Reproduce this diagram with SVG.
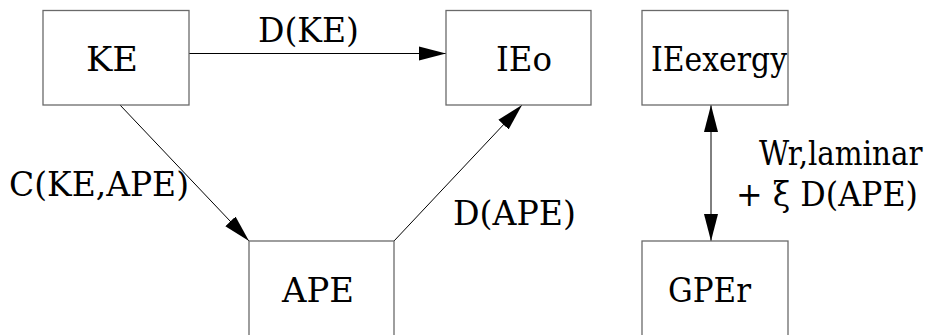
<svg xmlns="http://www.w3.org/2000/svg" width="932" height="335" viewBox="0 0 932 335">
<style>
.box{fill:#fff;stroke:#6a6a6a;stroke-width:1.3}
.t{font-family:'DejaVu Serif',serif;font-size:33px;fill:#000}
.c{stroke:#000;stroke-width:1;fill:none}
</style>
<defs>
<marker id="ah" markerUnits="userSpaceOnUse" markerWidth="28" markerHeight="16" refX="27" refY="7" orient="auto-start-reverse" viewBox="0 0 28 14">
<path d="M0,0 L27,7 L0,14 z" fill="#000"/>
</marker>
</defs>
<rect width="932" height="335" fill="#fff"/>
<g id="connectors">
<line class="c" x1="189" y1="53.5" x2="446" y2="53.5" marker-end="url(#ah)"/>
<line class="c" x1="120" y1="105" x2="249" y2="241" marker-end="url(#ah)"/>
<line class="c" x1="394" y1="241" x2="522" y2="105" marker-end="url(#ah)"/>
<line class="c" x1="711" y1="105" x2="711" y2="241" marker-start="url(#ah)" marker-end="url(#ah)"/>
<text class="t" x="258" y="41.5" textLength="101" lengthAdjust="spacingAndGlyphs">D(KE)</text>
<text class="t" x="9" y="196" textLength="180" lengthAdjust="spacingAndGlyphs">C(KE,APE)</text>
<text class="t" x="453" y="225" textLength="123" lengthAdjust="spacingAndGlyphs">D(APE)</text>
<text class="t" transform="translate(759,165) scale(0.89,1)" x="0" y="0">Wr,laminar</text>
<text class="t" x="736" y="206" textLength="182" lengthAdjust="spacingAndGlyphs">+ ξ D(APE)</text>
</g>
<g id="KE">
<rect class="box" x="43" y="10.5" width="146" height="94.5"/>
<text class="t" x="86" y="71" textLength="52" lengthAdjust="spacingAndGlyphs">KE</text>
</g>
<g id="IEo">
<rect class="box" x="446" y="10.5" width="145" height="94.5"/>
<text class="t" x="496" y="71" textLength="56" lengthAdjust="spacingAndGlyphs">IEo</text>
</g>
<g id="IEexergy">
<rect class="box" x="642" y="10.5" width="146" height="94.5"/>
<text class="t" x="651" y="71" textLength="136" lengthAdjust="spacingAndGlyphs">IEexergy</text>
</g>
<g id="APE">
<rect class="box" x="249" y="241" width="145" height="100"/>
<text class="t" x="282" y="301.5" textLength="72" lengthAdjust="spacingAndGlyphs">APE</text>
</g>
<g id="GPEr">
<rect class="box" x="642" y="241" width="146" height="100"/>
<text class="t" x="668" y="301.5" textLength="83" lengthAdjust="spacingAndGlyphs">GPEr</text>
</g>
</svg>
